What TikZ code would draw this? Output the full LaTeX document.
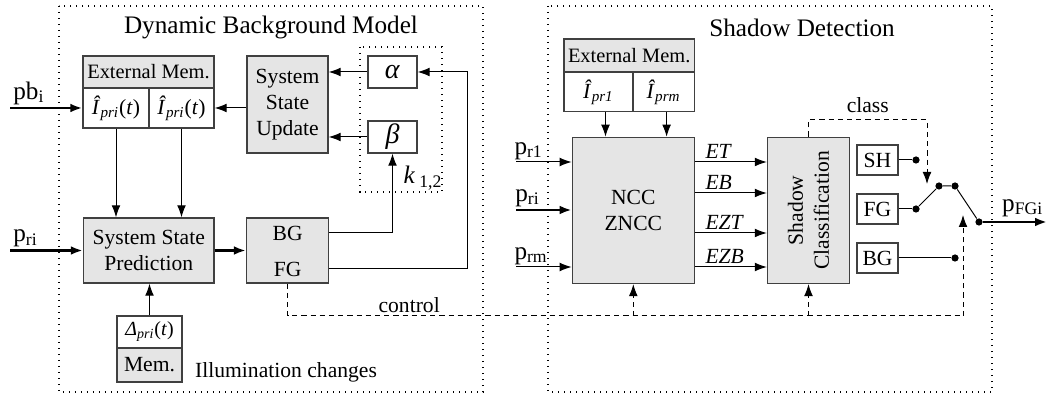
\documentclass[tikz,border=0pt]{standalone}
\usepackage{fontspec}
\setmainfont{Liberation Serif}
\usetikzlibrary{arrows.meta}

\newcommand{\Ihat}[1]{\textit{Î}\textsubscript{\textit{#1}}}

\begin{document}
\begin{tikzpicture}[x=0.5pt, y=-0.5pt, font=\fontsize{10.8}{13}\selectfont, line width=0.5pt,
  >={Latex[length=6pt,width=4.4pt]},
  blk/.style={draw=black!75, line width=0.7pt, fill=black!10, align=center, inner sep=0pt},
  cell/.style={blk, fill=white},
  frame/.style={draw=black, line width=0.6pt, dash pattern=on 0.6pt off 2.4pt},
  ctrl/.style={dash pattern=on 2.6pt off 2pt},
  feed/.style={->, line width=1.3pt},
  dot/.style={circle, fill=black, inner sep=0pt, minimum size=3.6pt},
  lbl/.style={font=\fontsize{12.6}{14}\selectfont, inner sep=1pt},
  greek/.style={font=\fontsize{14}{16}\selectfont},
  title/.style={font=\fontsize{12.6}{15}\selectfont}]
  \useasboundingbox (0,0) rectangle (1048,394);

  % Dynamic Background Model
  \draw[frame] (59,6) rectangle (483,392);
  \node[title] (dbmtitle) at (271,27) {Dynamic Background Model};
  \node[blk, minimum width=65.5pt, minimum height=16pt, font=\fontsize{10.2}{12}\selectfont] (extmem) at (148.5,72) {External Mem.};
  \node[cell, minimum width=33pt, minimum height=20pt] (icur) at (116,108) {\Ihat{pri}(\textit{t})};
  \node[cell, minimum width=32.5pt, minimum height=20pt] (inext) at (181.5,108) {\Ihat{pri}(\textit{t})};
  \node[blk, minimum width=40.5pt, minimum height=48.5pt] (ssu) at (287.5,104.5) {System\\State\\Update};
  \node[cell, greek, minimum width=24.5pt, minimum height=16pt] (alpha) at (392.5,72) {\textit{α}};
  \node[cell, greek, minimum width=24.5pt, minimum height=16pt] (beta) at (392.5,137) {\textit{β}};
  \draw[frame] (360,47) rectangle (442,192);
  \node[lbl] (kgain) at (423,178) {\textit{k}\,\textsubscript{1,2}};
  \node[blk, minimum width=65.25pt, minimum height=32.5pt] (ssp) at (148.75,250.5) {System State\\Prediction};
  \node[blk, minimum width=41pt, minimum height=32.5pt] (bgfg) at (287.6,250.5) {};
  \node (bg) at (287.6,233) {BG};
  \node (fg) at (287.6,269) {FG};
  \node[cell, minimum width=32.5pt, minimum height=16pt, font=\fontsize{10}{12}\selectfont] (delta) at (149.5,332) {\textit{Δ}\textsubscript{\textit{pri}}(\textit{t})};
  \node[blk, minimum width=32.5pt, minimum height=17pt] (mem) at (149.5,365) {Mem.};
  \node[anchor=west] (illum) at (188,372) {Illumination changes};

  \coordinate (pbin) at (10,108);
  \coordinate (priin) at (10,250.5);
  \coordinate (fbk) at (467,72);
  \draw[feed] (pbin) node[lbl, above right] {pb\textsubscript{i}} -- (icur.west);
  \draw[feed] (priin) node[lbl, above right] {p\textsubscript{ri}} -- (ssp.west);
  \draw[feed] (ssp) -- (bgfg);
  \draw[->] (icur.south) -- (icur.south |- ssp.north);
  \draw[->] (inext.south) -- (inext.south |- ssp.north);
  \draw[->] (delta.north) -- (delta.north |- ssp.south);
  \draw[->] (ssu.west |- inext.east) -- (inext.east);
  \draw[->] (alpha.west) -- (alpha.west -| ssu.east);
  \draw[->] (beta.west) -- (beta.west -| ssu.east);
  \draw[->] (bg -| bgfg.east) -| (beta.south);
  \draw[->] (fg -| bgfg.east) -| (fbk) -- (alpha.east);

  % Shadow Detection
  \draw[frame] (548,6) rectangle (992,392);
  \node[title] (sdtitle) at (802,28) {Shadow Detection};
  \node[blk, minimum width=65.2pt, minimum height=16.5pt, font=\fontsize{10.2}{12}\selectfont] (extmemr) at (629.2,55.7) {External Mem.};
  \node[cell, minimum width=34.5pt, minimum height=19.8pt] (ifirst) at (598.5,92) {\Ihat{pr1}};
  \node[cell, minimum width=30.7pt, minimum height=19.8pt] (ilast) at (663.6,92) {\Ihat{prm}};
  \node[blk, minimum width=61pt, minimum height=73pt] (ncc) at (633.3,210.4) {NCC\\ZNCC};
  \node[blk, minimum width=41pt, minimum height=73pt] (sc) at (808.5,210.4) {};
  \node[rotate=90, align=center] (sctext) at (sc) {Shadow\\Classification};
  \draw[->] ([xshift=3.5pt]ifirst.south) -- ([xshift=3.5pt]ifirst.south |- ncc.north);
  \draw[->] ([xshift=1.5pt]ilast.south) -- ([xshift=1.5pt]ilast.south |- ncc.north);

  \coordinate (pr1in) at (516,162);
  \coordinate (pr2in) at (516,210);
  \coordinate (prmin) at (516,267);
  \draw[->] (pr1in) node[lbl, above right, xshift=-2pt] {p\textsubscript{r1}} -- (pr1in -| ncc.west);
  \draw[feed] (pr2in) node[lbl, above right, xshift=-2pt] {p\textsubscript{ri}} -- (pr2in -| ncc.west);
  \draw[->] (prmin) node[lbl, above right, xshift=-2pt] {p\textsubscript{rm}} -- (prmin -| ncc.west);
  \foreach \name/\yy in {ET/162, EB/193, EZT/233, EZB/267}
    \draw[->] (ncc.east |- 0,\yy) -- node[pos=0, anchor=south west, xshift=3.5pt, inner sep=1.5pt] {\textit{\name}} (sc.west |- 0,\yy);

  \node[cell, minimum width=20.5pt, minimum height=15pt] (sh) at (877.5,160) {SH};
  \node[cell, minimum width=20.5pt, minimum height=15pt] (fgout) at (877.5,209) {FG};
  \node[cell, minimum width=20.5pt, minimum height=15pt] (bgout) at (877.5,258) {BG};
  \node[dot] (shdot) at (916,160) {};
  \node[dot] (fgdot) at (916,209) {};
  \node[dot] (bgdot) at (955,258) {};
  \node[dot] (swa) at (939,186) {};
  \node[dot] (swb) at (955,186) {};
  \node[dot] (outdot) at (979,222) {};
  \draw (sh) -- (shdot);
  \draw (fgout) -- (fgdot);
  \draw (bgout) -- (bgdot);
  \draw (fgdot) -- (swa) -- (swb) -- (outdot);
  \coordinate (pfgi) at (1047,222);
  \draw[feed] (outdot) -- node[lbl, above, pos=0.62, inner sep=2pt] {p\textsubscript{FGi}} (pfgi);

  % control and class
  \coordinate (ctlend) at (963,316);
  \coordinate (swctl) at (963,215);
  \coordinate (clscorner) at (927,120);
  \coordinate (swcls) at (927,184);
  \draw[ctrl] (bgfg.south) |- node[pos=0.59, above, inner sep=1.5pt] {control} (ctlend);
  \draw[ctrl, ->] (ctlend) -- (swctl);
  \draw[ctrl, ->] (ncc.south |- ctlend) -- (ncc.south);
  \draw[ctrl, ->] (sc.south |- ctlend) -- (sc.south);
  \draw[ctrl, ->] (sc.north) |- node[pos=0.75, above] {class} (clscorner) -- (swcls);
\end{tikzpicture}
\end{document}
